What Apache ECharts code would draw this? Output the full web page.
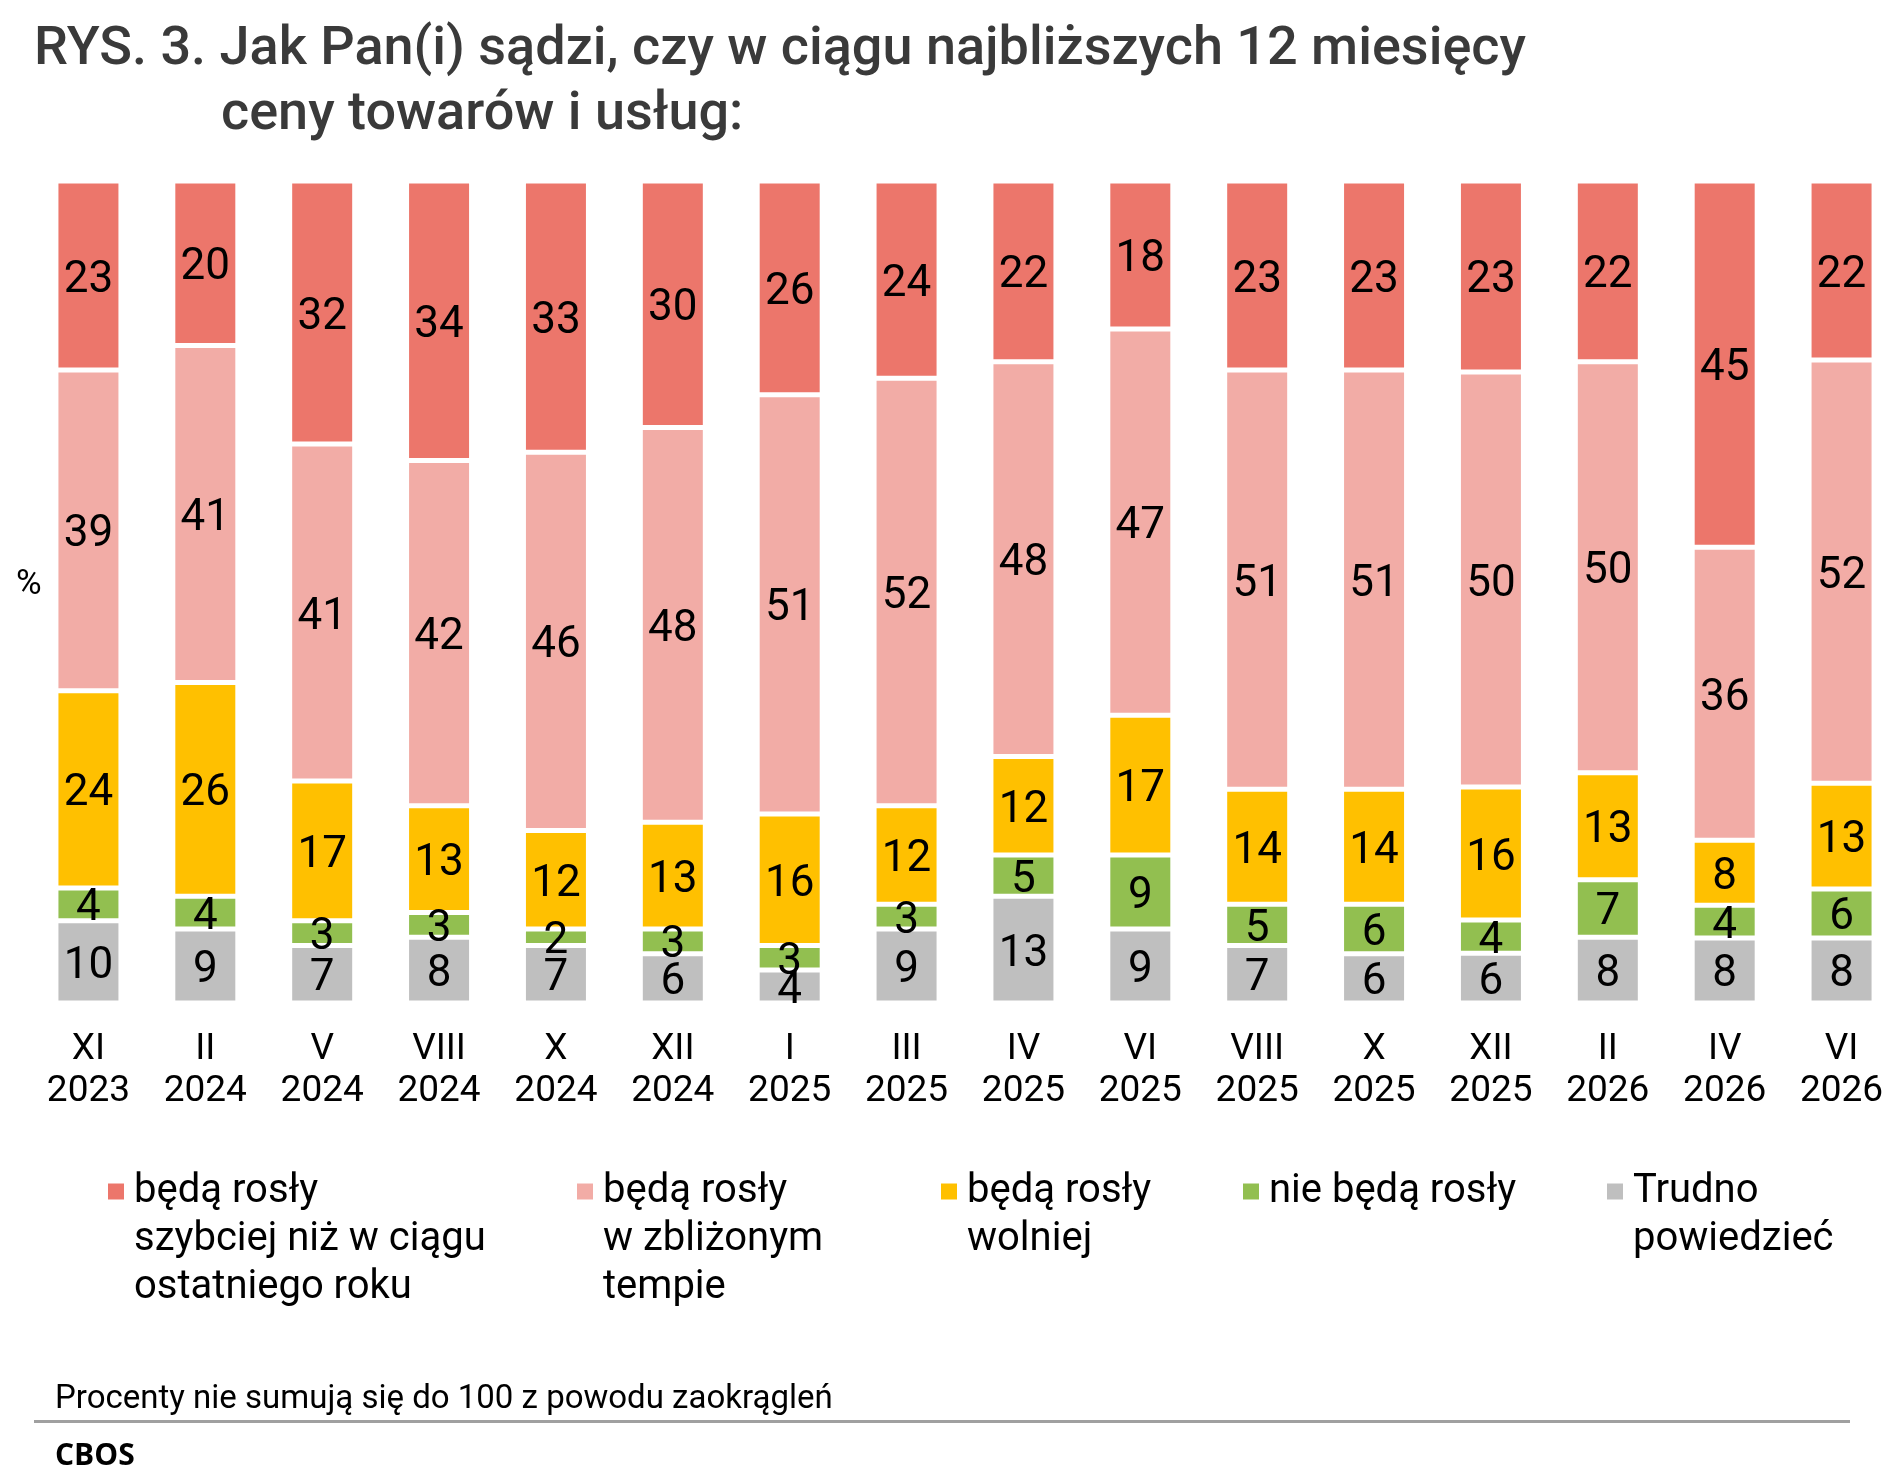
<!DOCTYPE html>
<html>
<head>
<meta charset="utf-8">
<script src="https://cdn.jsdelivr.net/npm/echarts@6/dist/echarts.min.js"></script>
<style>
html,body{margin:0;padding:0;background:#fff;overflow:hidden;}
#chart{width:1910px;height:1483px;}
</style>
</head>
<body>
<div id="chart"></div>
<script>
const months = ['XI','II','V','VIII','X','XII','I','III','IV','VI','VIII','X','XII','II','IV','VI'];
const years = ['2023','2024','2024','2024','2024','2024','2025','2025','2025','2025','2025','2025','2025','2026','2026','2026'];
const faster = [23,20,32,34,33,30,26,24,22,18,23,23,23,22,45,22];
const similar = [39,41,41,42,46,48,51,52,48,47,51,51,50,50,36,52];
const slower = [24,26,17,13,12,13,16,12,12,17,14,14,16,13,8,13];
const noRise = [4,4,3,3,2,3,3,3,5,9,5,6,4,7,4,6];
const hardSay = [10,9,7,8,7,6,4,9,13,9,7,6,6,8,8,8];

const seriesNames = [
  'Trudno\npowiedzieć',
  'nie będą rosły',
  'będą rosły\nwolniej',
  'będą rosły\nw zbliżonym\ntempie',
  'będą rosły\nszybciej niż w ciągu\nostatniego roku'
];
const seriesColors = ['#BFBFBF', '#92BF50', '#FFC000', '#F2ACA6', '#EC766B'];
const seriesValues = [hardSay, noRise, slower, similar, faster];

const categories = months.map((m, i) => m + '\n' + years[i]);
const totals = months.map((_, i) => seriesValues.reduce((s, arr) => s + arr[i], 0));

const FONT = 'Roboto';

const chart = echarts.init(document.getElementById('chart'), null, {renderer: 'canvas'});

const series = seriesValues.map((arr, k) => ({
  name: seriesNames[k],
  type: 'bar',
  stack: 'total',
  barWidth: 65,
  data: arr.map((v, i) => v / totals[i] * 100),
  itemStyle: {color: seriesColors[k], borderColor: '#ffffff', borderWidth: 2.5},
  label: {
    show: true,
    position: 'inside',
    offset: [0, 5],
    color: '#000',
    fontFamily: FONT,
    fontSize: 44,
    formatter: p => String(arr[p.dataIndex])
  },
  emphasis: {disabled: true}
}));

// legend layout: one legend component per item
const legendLefts = [106, 575, 939, 1241, 1605];
const legendOrder = [4, 3, 2, 1, 0];
const LH = 48;
const iconCenter = 1191.5;
const legends = legendOrder.map((k, j) => {
  const n = seriesNames[k].split('\n').length;
  return {
    data: [seriesNames[k]],
    left: legendLefts[j],
    top: iconCenter - (n * LH - LH / 2),
    padding: 0,
    itemWidth: 18,
    itemHeight: 18,
    icon: 'rect',
    selectedMode: false,
    formatter: name => '\n'.repeat(n - 1) + name,
    textStyle: {
      color: '#000',
      fontFamily: FONT,
      fontSize: 40,
      lineHeight: LH,
      padding: [0, 0, 0, 4]
    }
  };
});

const option = {
  backgroundColor: '#ffffff',
  animation: false,
  title: [
    {
      text: 'RYS. 3. Jak Pan(i) sądzi, czy w ciągu najbliższych 12 miesięcy',
      left: 34, top: 20, padding: 0,
      textStyle: {fontFamily: FONT, fontWeight: 500, fontSize: 54, lineHeight: 60, color: '#3a3a3a'}
    },
    {
      text: 'ceny towarów i usług:',
      left: 221, top: 85, padding: 0,
      textStyle: {fontFamily: FONT, fontWeight: 500, fontSize: 54, lineHeight: 60, color: '#3a3a3a'}
    }
  ],
  legend: legends,
  grid: {left: 30, top: 181, width: 1870, height: 822, containLabel: false},
  xAxis: {
    type: 'category',
    data: categories,
    axisLine: {show: false},
    axisTick: {show: false},
    axisLabel: {
      interval: 0,
      margin: 26,
      color: '#000',
      fontFamily: FONT,
      fontSize: 37,
      lineHeight: 42
    }
  },
  yAxis: {
    type: 'value',
    min: 0,
    max: 100,
    show: false,
    splitLine: {show: false}
  },
  series: series,
  graphic: [
    {type: 'text', left: 16, top: 568, style: {text: '%', font: '35px Roboto', fill: '#000'}},
    {type: 'text', left: 55, top: 1383, style: {text: 'Procenty nie sumują się do 100 z powodu zaokrągleń', font: '33px Roboto', fill: '#000'}},
    {type: 'rect', shape: {x: 34, y: 1420, width: 1816, height: 3}, style: {fill: '#A0A0A0'}},
    {type: 'text', left: 55, top: 1441, style: {text: 'CBOS', font: 'bold 30px "Open Sans"', fill: '#000'}}
  ]
};

chart.setOption(option);
</script>
</body>
</html>
